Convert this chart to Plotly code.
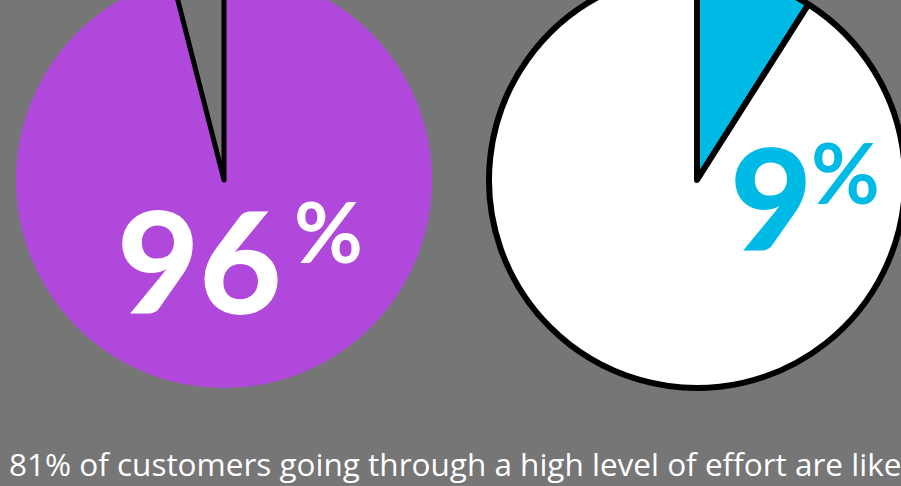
import plotly.graph_objects as go

# Shares shown in the two pies (percent)
left_labels = ["Share", "Rest"]
left_values = [96, 4]
right_labels = ["Share", "Rest"]
right_values = [9, 91]
caption = "81% of customers going through a high level of effort are like"

# Canvas: slightly larger than the visible window; the page is shifted up
# so the tops of the pies run off the top edge.
W, H = 910, 516
SHIFT = 30

BG = "#767676"
PURPLE = "#b048db"
CYAN = "#00bae6"


def px_x(x):
    return x / W


def px_y(y):
    # y measured from the top of the visible window
    return 1 - (y + SHIFT) / H


fig = go.Figure()

# Left pie: purple majority, hollow outlined wedge
fig.add_trace(go.Pie(
    labels=left_labels,
    values=left_values,
    sort=False,
    direction="counterclockwise",
    rotation=0,
    marker=dict(colors=[PURPLE, "rgba(0,0,0,0)"],
                line=dict(color=["rgba(0,0,0,0)", "black"], width=[0, 5])),
    textinfo="none",
    hoverinfo="none",
    showlegend=False,
    domain=dict(x=[px_x(16), px_x(432)], y=[px_y(388), px_y(-28)]),
))

# Right pie: white body, cyan wedge, black outline
fig.add_trace(go.Pie(
    labels=right_labels,
    values=right_values,
    sort=False,
    direction="clockwise",
    rotation=0,
    marker=dict(colors=[CYAN, "white"], line=dict(color="black", width=6)),
    textinfo="none",
    hoverinfo="none",
    showlegend=False,
    domain=dict(x=[px_x(489), px_x(905)], y=[px_y(388), px_y(-28)]),
))

BIG = dict(family="Lato", size=142, weight=900)
PCT = dict(family="Lato", size=84, weight=700)

annotations = [
    dict(text=f"{left_values[0]}", x=px_x(199), y=px_y(259),
         font=dict(color="white", **BIG)),
    dict(text="%", x=px_x(328), y=px_y(230),
         font=dict(color="white", **PCT)),
    dict(text=f"{right_values[0]}", x=px_x(771), y=px_y(196),
         font=dict(color=CYAN, **BIG)),
    dict(text="%", x=px_x(845), y=px_y(171),
         font=dict(color=CYAN, **PCT)),
    dict(text=caption, x=px_x(7), y=px_y(487), xanchor="left", yanchor="bottom",
         font=dict(family="Open Sans", size=31.5, color="white")),
]
for a in annotations:
    a.setdefault("xanchor", "center")
    a.setdefault("yanchor", "middle")
    fig.add_annotation(xref="paper", yref="paper", showarrow=False, **a)

fig.update_layout(
    width=W, height=H,
    margin=dict(l=0, r=0, t=0, b=0),
    paper_bgcolor=BG,
    plot_bgcolor=BG,
)

post = (
    "document.body.style.margin='0';"
    "document.body.style.overflow='hidden';"
    "document.body.style.background='" + BG + "';"
    "var gd=document.getElementById('{plot_id}');"
    "gd.style.marginTop='-" + str(SHIFT) + "px';"
)
fig.write_html("out.html", config=dict(displayModeBar=False), post_script=post)
